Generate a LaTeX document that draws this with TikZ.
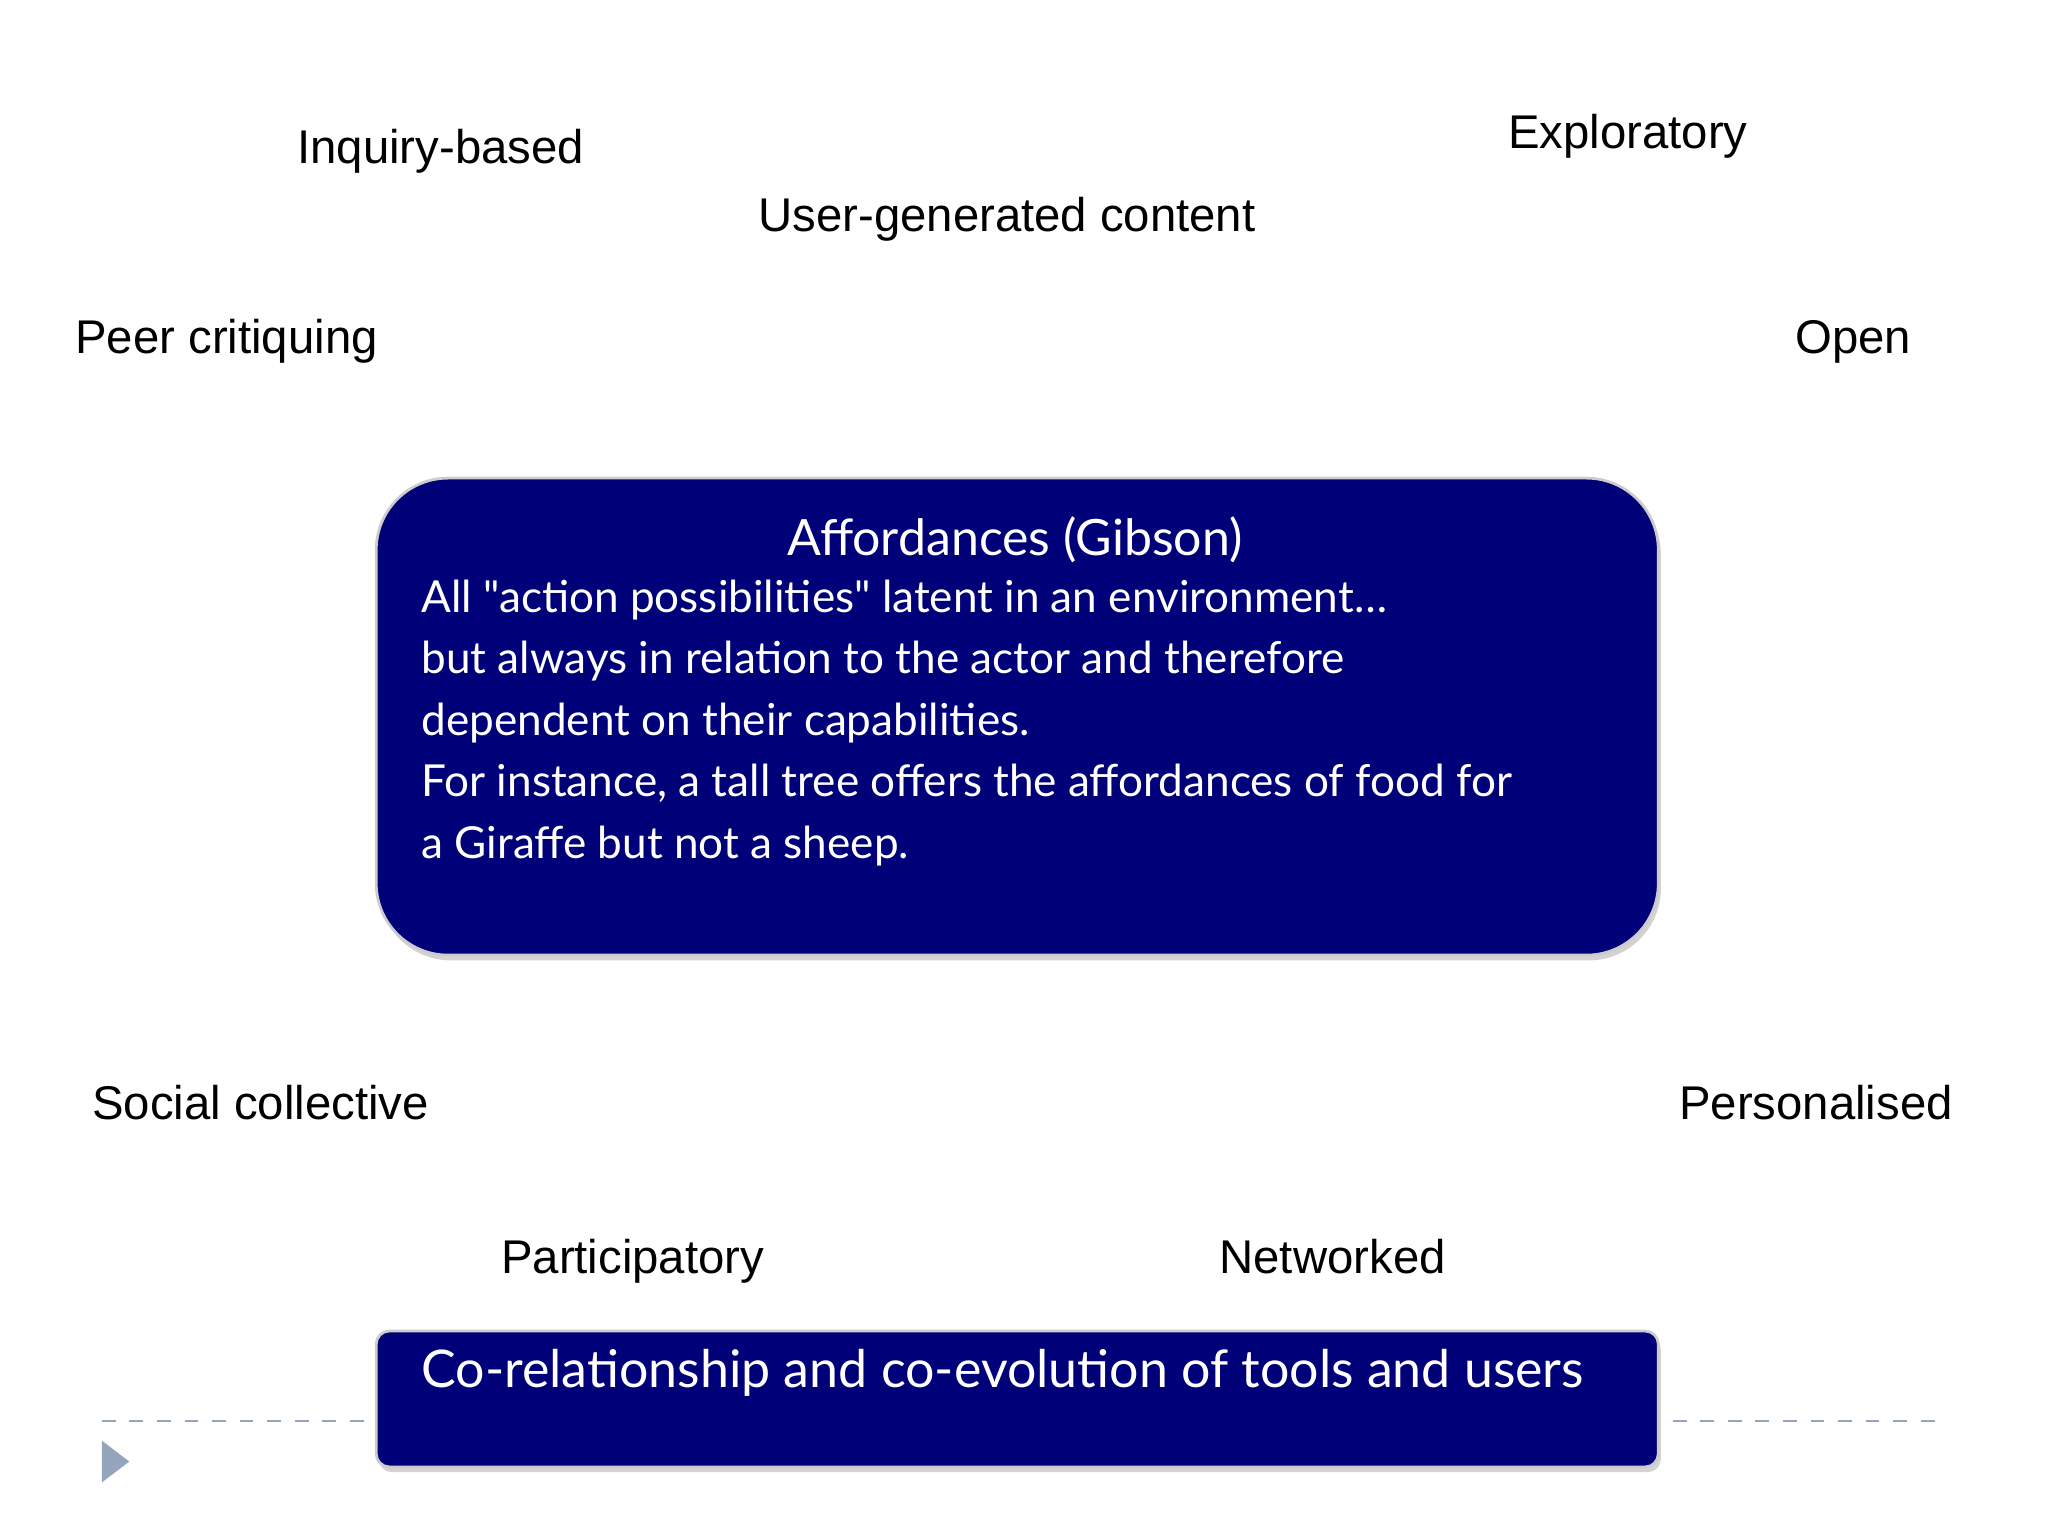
\documentclass[tikz,border=0pt]{standalone}
\usepackage{fontspec}
\setmainfont{Liberation Sans}
\newfontfamily\boxfont{Lato}
\usetikzlibrary{shadows}
\definecolor{navy}{RGB}{0,0,120}
\definecolor{dashc}{RGB}{150,165,190}
\begin{document}
\begin{tikzpicture}[x=0.01cm,y=-0.01cm,
  lab/.style={anchor=base west,inner sep=0pt,font=\fontsize{10.3pt}{12pt}\selectfont},
  bluebox/.style={fill=navy,draw=gray!40,line width=0.6pt,drop shadow={shadow xshift=0.02cm,shadow yshift=-0.04cm,opacity=0.35}},
  btxt/.style={text=white,inner sep=0pt,font=\boxfont\fontsize{9.6pt}{13.4pt}\selectfont}]
\useasboundingbox (0,0) rectangle (1568,1176);
\draw[dashc,dashed,line width=0.6pt] (78,1088) -- (1490,1088);
\fill[dashc] (78,1103) -- (99,1119) -- (78,1135) -- cycle;
\node[bluebox,rounded corners=0.55cm,minimum width=9.81cm,minimum height=3.65cm,anchor=north west] (box1) at (287,365) {};
\node[bluebox,rounded corners=0.1cm,minimum width=9.81cm,minimum height=1.04cm,anchor=north west] (box2) at (287,1018) {};
\node[btxt,anchor=base,font=\boxfont\fontsize{10.9pt}{13pt}\selectfont] (title) at (777,425) {Affordances (Gibson)};
\node[btxt,anchor=north west,align=left] (body) at (322,443) {All "action possibilities" latent in an environment\dots\\but always in relation to the actor and therefore\\dependent on their capabilities.\\For instance, a tall tree offers the affordances of food for\\a Giraffe but not a sheep.};
\node[btxt,anchor=base west,font=\boxfont\fontsize{11.3pt}{13pt}\selectfont] (co) at (322,1062) {Co-relationship and co-evolution of tools and users};
\node[lab] (l1) at (227,125) {Inquiry-based};
\node[lab] (l2) at (1154,114) {Exploratory};
\node[lab] (l3) at (580,177) {User-generated content};
\node[lab] (l4) at (57,271) {Peer critiquing};
\node[lab] (l5) at (1374,271) {Open};
\node[lab] (l6) at (70,857) {Social collective};
\node[lab] (l7) at (1285,857) {Personalised};
\node[lab] (l8) at (383,975) {Participatory};
\node[lab] (l9) at (933,975) {Networked};
\end{tikzpicture}
\end{document}
